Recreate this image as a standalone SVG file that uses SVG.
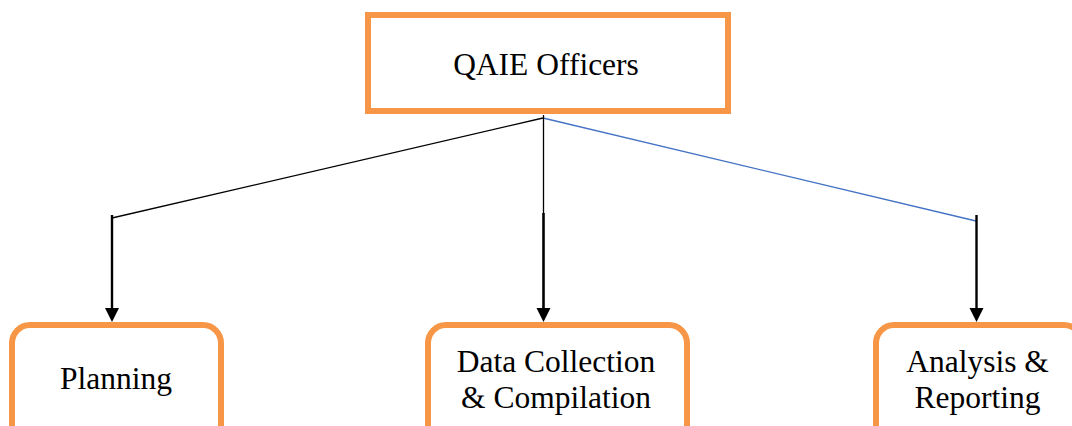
<svg xmlns="http://www.w3.org/2000/svg" width="1072" height="426" viewBox="0 0 1072 426">
<style>
.box{fill:#fff;stroke:#F79646;stroke-width:6}
.lbl{font-family:"Liberation Serif","Times New Roman",serif;font-size:31.5px;fill:#000;text-anchor:middle}
.thin{stroke:#000;stroke-width:1.3;fill:none}
.blue{stroke:#4472C4;stroke-width:1.3;fill:none}
.arr{stroke:#000;stroke-width:2.4;fill:none;marker-end:url(#ah)}
</style>
<defs>
<marker id="ah" markerUnits="userSpaceOnUse" markerWidth="16" markerHeight="16" refX="7" refY="14" orient="auto-start-reverse" viewBox="0 0 14 14">
<path d="M0,0 L14,0 L7,14 Z" fill="#000" transform="rotate(-90 7 7)"/>
</marker>
</defs>
<rect width="1072" height="426" fill="#fff"/>
<g id="connectors">
<line class="thin" x1="543" y1="118" x2="112" y2="218"/>
<line class="blue" x1="543" y1="118" x2="976" y2="221"/>
<line class="thin" x1="543.5" y1="115" x2="543.5" y2="214"/>
<path d="M112,215 V308" stroke="#000" stroke-width="2.4"/>
<polygon points="105,308 119,308 112,322" fill="#000"/>
<path d="M543.5,213 V308" stroke="#000" stroke-width="2.6"/>
<polygon points="536.5,308 550.5,308 543.5,322" fill="#000"/>
<path d="M976.5,215 V308" stroke="#000" stroke-width="2.4"/>
<polygon points="969.5,308 983.5,308 976.5,322" fill="#000"/>
</g>
<g id="qaie">
<rect class="box" x="368" y="15" width="360" height="96"/>
<text class="lbl" x="546" y="75">QAIE Officers</text>
</g>
<g id="planning">
<rect class="box" x="12" y="325" width="209" height="130" rx="18"/>
<text class="lbl" x="116" y="389">Planning</text>
</g>
<g id="datacollection">
<rect class="box" x="428" y="325" width="259" height="130" rx="18"/>
<text class="lbl" x="556" y="372">Data Collection</text>
<text class="lbl" x="556" y="408">&amp; Compilation</text>
</g>
<g id="analysis">
<rect class="box" x="876" y="325" width="206" height="130" rx="18"/>
<text class="lbl" x="977.5" y="372">Analysis &amp;</text>
<text class="lbl" x="977.5" y="408">Reporting</text>
</g>
</svg>
